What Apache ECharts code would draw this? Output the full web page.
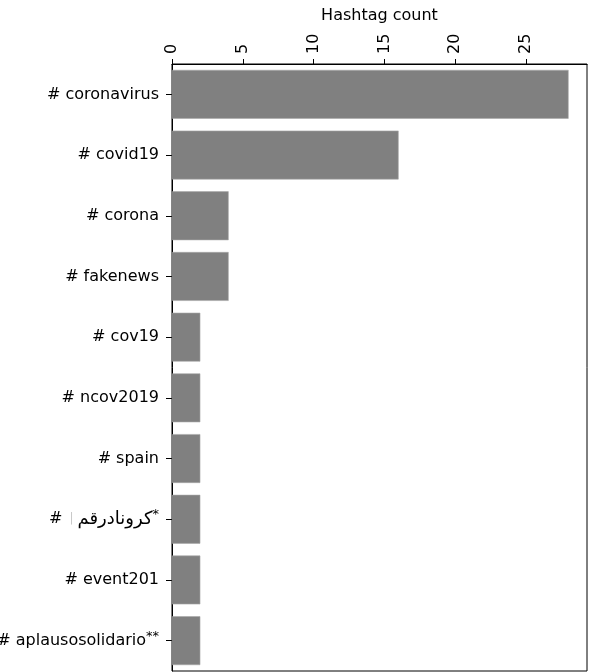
<!DOCTYPE html>
<html>
<head>
<meta charset="utf-8">
<script src="https://cdn.jsdelivr.net/npm/echarts@6/dist/echarts.min.js"></script>
<style>
html,body{margin:0;padding:0;background:#fff;}
#chart{width:592px;height:672px;}
</style>
</head>
<body>
<div id="chart"></div>
<script>
// Data
var categories = ['coronavirus', 'covid19', 'corona', 'fakenews', 'cov19', 'ncov2019', 'spain', 'كرونادرقم', 'event201', 'aplausosolidario'];
var footnotes = ['', '', '', '', '', '', '', '*', '', '**'];
var counts = [28, 16, 4, 4, 2, 2, 2, 2, 2, 2];
var xTicks = [0, 5, 10, 15, 20, 25];
var axisTitle = 'Hashtag count';

var FONT = 'DejaVu Sans';
var chart = echarts.init(document.getElementById('chart'), null, {renderer: 'canvas'});

chart.setOption({
  animation: false,
  backgroundColor: '#ffffff',
  grid: {
    left: 172, right: 5, top: 64, bottom: 1,
    show: true, borderColor: '#000', borderWidth: 1, backgroundColor: 'transparent',
    containLabel: false,
    outerBoundsMode: 'none'
  },
  xAxis: {
    type: 'value',
    position: 'top',
    min: 0, max: 29.3, interval: 5,
    name: axisTitle,
    nameLocation: 'middle',
    nameGap: 40,
    nameTextStyle: {fontFamily: FONT, fontSize: 16, color: '#000'},
    axisLine: {show: true, lineStyle: {color: '#000', width: 1}},
    axisTick: {show: true, length: 5, lineStyle: {color: '#000'}},
    axisLabel: {
      rotate: -90, margin: 10, fontFamily: FONT, fontSize: 16, color: '#000',
      showMaxLabel: false,
      formatter: function (v) { return xTicks.indexOf(v) >= 0 ? String(v) : ''; }
    },
    splitLine: {show: false}
  },
  yAxis: {
    type: 'category',
    inverse: true,
    data: categories,
    axisLine: {show: true, lineStyle: {color: '#000', width: 1}},
    axisTick: {show: true, alignWithLabel: true, length: 6, lineStyle: {color: '#000'}},
    axisLabel: {
      margin: 13, fontFamily: FONT, fontSize: 16, color: '#000',
      formatter: function (v, i) {
        var s = '{n|# }';
        if (/[\u0600-\u06FF]/.test(v)) {
          s += '{bar||}{ar|' + v + '}';
        } else {
          s += '{n|' + v + '}';
        }
        if (footnotes[i]) s += '{sup|' + footnotes[i] + '}';
        return s;
      },
      rich: {
        n: {fontFamily: FONT, fontSize: 16, color: '#000'},
        ar: {fontFamily: FONT, fontSize: 18, color: '#000', padding: [0, 0, 0, 2]},
        bar: {fontFamily: FONT, fontSize: 12, color: '#c8c8c8', padding: [0, 2, 0, 2]},
        sup: {fontFamily: FONT, fontSize: 13, color: '#000', padding: [0, 0, 9, 0]}
      }
    },
    splitLine: {show: false}
  },
  series: [{
    type: 'bar',
    data: counts,
    barCategoryGap: '19.5%',
    itemStyle: {color: '#808080', borderColor: '#a8a8a8', borderWidth: 0.6},
    silent: true
  }]
});
</script>
</body>
</html>
